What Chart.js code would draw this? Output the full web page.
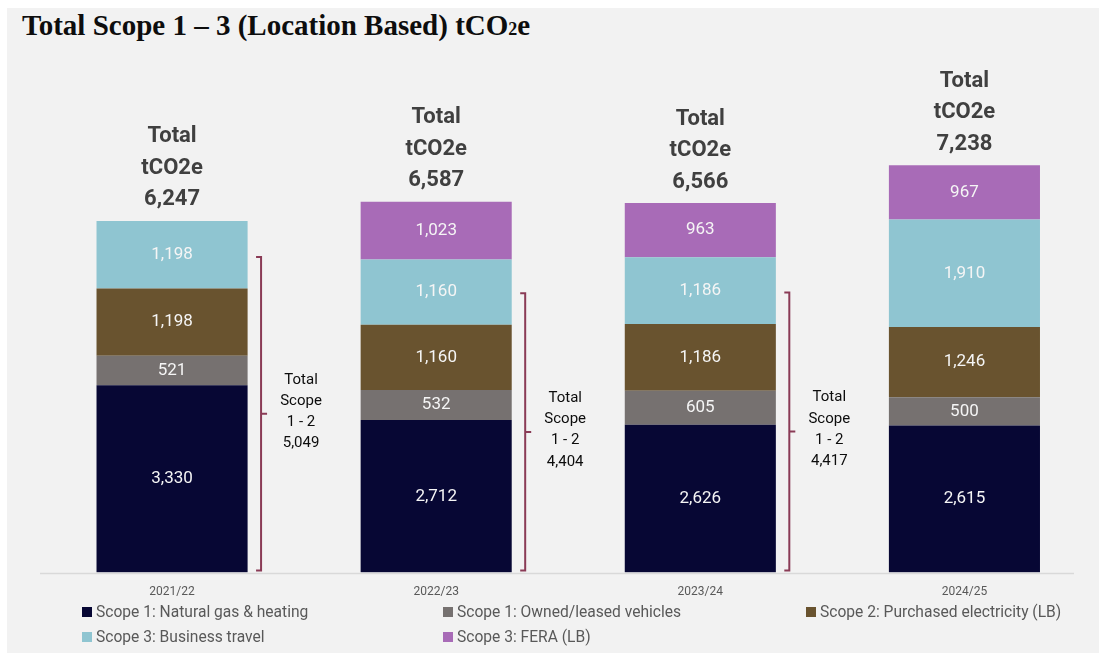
<!DOCTYPE html>
<html>
<head>
<meta charset="utf-8">
<script src="https://cdn.jsdelivr.net/npm/chart.js@4.4.1/dist/chart.umd.min.js"></script>
<style>
  html, body { margin:0; padding:0; background:#ffffff; width:1099px; height:653px; overflow:hidden; }
  #panel { position:absolute; left:7px; top:8px; width:1092px; height:645px; background:#f2f2f2; }
  #title { position:absolute; left:22px; top:9px; font-family:"Liberation Serif","DejaVu Serif",serif; font-weight:bold; font-size:29px; color:#0d0d0d; white-space:nowrap; }
  #title .sub { font-size:18px; }
  #wrap { position:absolute; left:0; top:0; width:1099px; height:653px; }
  #legend { position:absolute; left:0; top:0; width:1099px; height:653px; pointer-events:none; font-family:Roboto,"Liberation Sans",sans-serif; font-size:15.6px; color:#595959; }
  .li { position:absolute; white-space:nowrap; line-height:18px; }
  .li i { display:inline-block; width:10px; height:10px; margin-right:4px; vertical-align:0px; }
</style>
</head>
<body>
<div id="panel"></div>
<div id="title">Total Scope 1 – 3 (Location Based) tCO<span class="sub">2</span>e</div>
<div id="wrap"><canvas id="c" width="1099" height="653"></canvas></div>
<div id="legend"></div>
<script>
const categories = ["2021/22", "2022/23", "2023/24", "2024/25"];
const seriesNames = [
  "Scope 1: Natural gas & heating",
  "Scope 1: Owned/leased vehicles",
  "Scope 2: Purchased electricity (LB)",
  "Scope 3: Business travel",
  "Scope 3: FERA (LB)"
];
const naturalGas   = [3330, 2712, 2626, 2615];
const vehicles     = [521, 532, 605, 500];
const electricity  = [1198, 1160, 1186, 1246];
const travel       = [1198, 1160, 1186, 1910];
const fera         = [null, 1023, 963, 967];
const totals       = [6247, 6587, 6566, 7238];
const scope12Shown = [true, true, true, false];

const colors = ["#070734", "#767170", "#69532f", "#8fc5d1", "#a86bb7"];
const seriesValues = [naturalGas, vehicles, electricity, travel, fera];

const fmt = v => Number(v).toLocaleString("en-US");

const labelsPlugin = {
  id: "labelsPlugin",
  afterDatasetsDraw(chart) {
    const ctx = chart.ctx;
    const y = chart.scales.y;
    ctx.save();
    // segment labels
    ctx.textAlign = "center";
    ctx.textBaseline = "middle";
    ctx.font = "17px Roboto, 'Liberation Sans', sans-serif";
    ctx.fillStyle = "#f5f5f5";
    chart.data.datasets.forEach((ds, di) => {
      const meta = chart.getDatasetMeta(di);
      meta.data.forEach((el, i) => {
        const v = ds.data[i];
        if (v == null || v === 0) return;
        const p = el.getProps(["x", "y", "base"], true);
        ctx.fillText(fmt(v), p.x, (p.y + p.base) / 2);
      });
    });
    // totals above bars
    const meta0 = chart.getDatasetMeta(0);
    ctx.font = "bold 22px Roboto, 'Liberation Sans', sans-serif";
    ctx.fillStyle = "#404040";
    categories.forEach((c, i) => {
      const x = meta0.data[i].x;
      const top = y.getPixelForValue(totals[i]);
      const lines = ["Total", "tCO2e", fmt(totals[i])];
      lines.forEach((t, k) => {
        ctx.fillText(t, x, top - 21 - (2 - k) * 31.5);
      });
    });
    // braces for scope 1-2
    ctx.strokeStyle = "#8a3b56";
    ctx.lineWidth = 2;
    categories.forEach((c, i) => {
      if (!scope12Shown[i]) return;
      const s12 = naturalGas[i] + vehicles[i] + electricity[i];
      const x = meta0.data[i].x;
      const bx = x + 89;
      const yTop = y.getPixelForValue(s12 + 560);
      const yBot = y.getPixelForValue(0) - 2;
      const yMid = (yTop + yBot) / 2;
      ctx.beginPath();
      ctx.moveTo(bx - 5, yTop);
      ctx.lineTo(bx, yTop);
      ctx.lineTo(bx, yBot);
      ctx.lineTo(bx - 5, yBot);
      ctx.moveTo(bx, yMid);
      ctx.lineTo(bx + 6, yMid);
      ctx.stroke();
      ctx.font = "15px Roboto, 'Liberation Sans', sans-serif";
      ctx.fillStyle = "#0d0d0d";
      const tl = ["Total", "Scope", "1 - 2", fmt(s12)];
      tl.forEach((t, k) => {
        ctx.fillText(t, x + 129, yMid - 2 + (k - 1.5) * 21.3);
      });
    });
    // axis line
    ctx.strokeStyle = "#d9d9d9";
    ctx.lineWidth = 1.5;
    ctx.beginPath();
    ctx.moveTo(chart.chartArea.left, y.getPixelForValue(0) + 1);
    ctx.lineTo(1074, y.getPixelForValue(0) + 1);
    ctx.stroke();
    ctx.restore();
  }
};

const chart = new Chart(document.getElementById("c"), {
  type: "bar",
  data: {
    labels: categories,
    datasets: seriesValues.map((vals, i) => ({
      label: seriesNames[i],
      data: vals,
      backgroundColor: colors[i],
      borderWidth: 0,
      barPercentage: 0.572,
      categoryPercentage: 1.0
    }))
  },
  options: {
    responsive: false,
    animation: false,
    layout: { padding: { left: 40, right: 2.5, top: 66, bottom: 42 } },
    plugins: { legend: { display: false }, tooltip: { enabled: false }, title: { display: false } },
    scales: {
      x: {
        stacked: true,
        grid: { display: false, drawTicks: false },
        border: { display: false },
        ticks: { color: "#595959", font: { family: "Roboto, 'Liberation Sans', sans-serif", size: 12 }, padding: 12 }
      },
      y: {
        stacked: true,
        display: false,
        min: 0,
        max: 9000
      }
    }
  },
  plugins: [labelsPlugin]
});

// legend built from the datasets
const legendPos = [[82, 603], [443, 603], [806, 603], [82, 628], [443, 628]];
const lg = document.getElementById("legend");
chart.data.datasets.forEach((ds, i) => {
  const d = document.createElement("div");
  d.className = "li";
  d.style.left = legendPos[i][0] + "px";
  d.style.top = legendPos[i][1] + "px";
  d.innerHTML = '<i style="background:' + ds.backgroundColor + '"></i>' + ds.label;
  lg.appendChild(d);
});
</script>
</body>
</html>
